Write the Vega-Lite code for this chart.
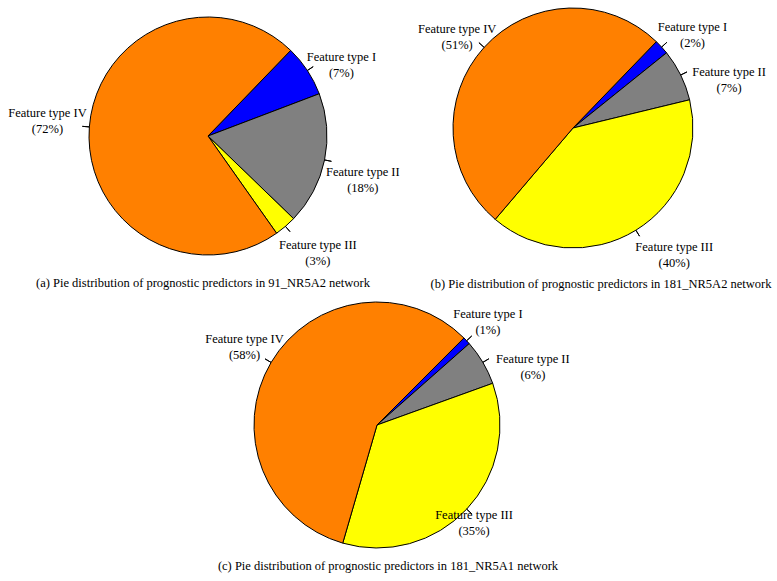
{
  "$schema": "https://vega.github.io/schema/vega-lite/v6.json",
  "padding": 0,
  "background": "white",
  "config": {
    "view": {"stroke": null},
    "font": "Liberation Serif",
    "text": {"font": "Liberation Serif", "fontSize": 12.5, "color": "black", "lineBreak": "\n", "lineHeight": 16},
    "title": {"font": "Liberation Serif", "fontSize": 12.5, "fontWeight": "normal", "color": "black", "anchor": "middle"}
  },
  "datasets": {
    "a": [
      {"type": "Feature type I", "share": 7, "label": "Feature type I\n(7%)"},
      {"type": "Feature type II", "share": 18, "label": "Feature type II\n(18%)"},
      {"type": "Feature type III", "share": 3, "label": "Feature type III\n(3%)"},
      {"type": "Feature type IV", "share": 72, "label": "Feature type IV\n(72%)"}
    ],
    "b": [
      {"type": "Feature type I", "share": 2, "label": "Feature type I\n(2%)"},
      {"type": "Feature type II", "share": 7, "label": "Feature type II\n(7%)"},
      {"type": "Feature type III", "share": 40, "label": "Feature type III\n(40%)"},
      {"type": "Feature type IV", "share": 51, "label": "Feature type IV\n(51%)"}
    ],
    "c": [
      {"type": "Feature type I", "share": 1, "label": "Feature type I\n(1%)"},
      {"type": "Feature type II", "share": 6, "label": "Feature type II\n(6%)"},
      {"type": "Feature type III", "share": 35, "label": "Feature type III\n(35%)"},
      {"type": "Feature type IV", "share": 58, "label": "Feature type IV\n(58%)"}
    ]
  },
  "vconcat": [
    {
      "hconcat": [
        {
          "width": 416, "height": 272,
          "data": {"name": "a"},
          "title": {"text": "(a)  Pie distribution of prognostic predictors in 91_NR5A2 network", "orient": "bottom", "frame": "group", "offset": 5, "dx": -5},
          "encoding": {
            "theta": {"field": "share", "type": "quantitative", "stack": true, "scale": {"range": [0.768, 7.051]}},
            "order": {"field": "type", "type": "ordinal"}
          },
          "resolve": {"scale": {"theta": "independent"}},
          "layer": [
            {"mark": {"type": "arc", "radius": 119, "stroke": "black", "strokeWidth": 1},
             "encoding": {"color": {"field": "type", "type": "nominal", "legend": null,
               "scale": {"domain": ["Feature type I", "Feature type II", "Feature type III", "Feature type IV"], "range": ["#0000ff", "#808080", "#ffff00", "#ff8000"]}}}},
            {"mark": {"type": "arc", "radius": 126, "radius2": 119, "padAngle": 3, "fill": null, "stroke": "black", "strokeWidth": 1},
             "encoding": {"detail": {"field": "type"}, "strokeOpacity": {"condition": {"test": "datum.type === 'Feature type IV'", "value": 0}, "value": 1}}},
            {"transform": [{"filter": "datum.type === 'Feature type IV'"}],
             "mark": {"type": "arc", "radius": 126, "radius2": 119, "padAngle": 3, "fill": null, "stroke": "black", "strokeWidth": 1},
             "encoding": {"theta": {"field": "share", "type": "quantitative", "stack": true, "scale": {"domain": [0, 72], "range": [4.779, 4.799]}}}},
            {"mark": {"type": "text", "radius": 155, "dx": 4, "dy": 6},
             "encoding": {"text": {"condition": {"test": "datum.type === 'Feature type I'", "field": "label"}, "value": ""}, "detail": {"field": "type"}}},
            {"mark": {"type": "text", "radius": 155, "dx": 3, "dy": 5},
             "encoding": {"text": {"condition": {"test": "datum.type === 'Feature type II'", "field": "label"}, "value": ""}, "detail": {"field": "type"}}},
            {"mark": {"type": "text", "radius": 155, "dx": 9, "dy": -9},
             "encoding": {"text": {"condition": {"test": "datum.type === 'Feature type III'", "field": "label"}, "value": ""}, "detail": {"field": "type"}}},
            {"mark": {"type": "text", "radius": 155, "dx": -6, "dy": -11},
             "encoding": {"text": {"condition": {"test": "datum.type === 'Feature type IV'", "field": "label"}, "value": ""}, "detail": {"field": "type"}}}
          ]
        },
        {
          "width": 314, "height": 256,
          "data": {"name": "b"},
          "title": {"text": "(b)  Pie distribution of prognostic predictors in 181_NR5A2 network", "orient": "bottom", "frame": "group", "offset": -1, "dx": 28},
          "encoding": {
            "theta": {"field": "share", "type": "quantitative", "stack": true, "scale": {"range": [0.768, 7.051]}},
            "order": {"field": "type", "type": "ordinal"}
          },
          "resolve": {"scale": {"theta": "independent"}},
          "layer": [
            {"mark": {"type": "arc", "radius": 120, "stroke": "black", "strokeWidth": 1},
             "encoding": {"color": {"field": "type", "type": "nominal", "legend": null,
               "scale": {"domain": ["Feature type I", "Feature type II", "Feature type III", "Feature type IV"], "range": ["#0000ff", "#808080", "#ffff00", "#ff8000"]}}}},
            {"mark": {"type": "arc", "radius": 127, "radius2": 120, "padAngle": 3, "fill": null, "stroke": "black", "strokeWidth": 1},
             "encoding": {"detail": {"field": "type"}, "strokeOpacity": {"condition": {"test": "datum.type === 'Feature type IV'", "value": 0}, "value": 1}}},
            {"transform": [{"filter": "datum.type === 'Feature type IV'"}],
             "mark": {"type": "arc", "radius": 127, "radius2": 120, "padAngle": 3, "fill": null, "stroke": "black", "strokeWidth": 1},
             "encoding": {"theta": {"field": "share", "type": "quantitative", "stack": true, "scale": {"domain": [0, 51], "range": [5.439, 5.459]}}}},
            {"mark": {"type": "text", "radius": 155, "dx": 5, "dy": 3.5},
             "encoding": {"text": {"condition": {"test": "datum.type === 'Feature type I'", "field": "label"}, "value": ""}, "detail": {"field": "type"}}},
            {"mark": {"type": "text", "radius": 155, "dx": 17, "dy": 12},
             "encoding": {"text": {"condition": {"test": "datum.type === 'Feature type II'", "field": "label"}, "value": ""}, "detail": {"field": "type"}}},
            {"mark": {"type": "text", "radius": 155, "dx": 20, "dy": -13.5},
             "encoding": {"text": {"condition": {"test": "datum.type === 'Feature type III'", "field": "label"}, "value": ""}, "detail": {"field": "type"}}},
            {"mark": {"type": "text", "radius": 155, "dx": -1, "dy": 5},
             "encoding": {"text": {"condition": {"test": "datum.type === 'Feature type IV'", "field": "label"}, "value": ""}, "detail": {"field": "type"}}}
          ]
        }
      ],
      "spacing": 0
    },
    {
      "width": 754, "height": 260,
      "data": {"name": "c"},
      "title": {"text": "(c)  Pie distribution of prognostic predictors in 181_NR5A1 network", "orient": "bottom", "frame": "group", "offset": 5, "dx": 11},
      "encoding": {
        "theta": {"field": "share", "type": "quantitative", "stack": true, "scale": {"range": [0.785, 7.068]}},
        "order": {"field": "type", "type": "ordinal"}
      },
      "resolve": {"scale": {"theta": "independent"}},
      "layer": [
        {"mark": {"type": "arc", "radius": 123, "stroke": "black", "strokeWidth": 1},
         "encoding": {"color": {"field": "type", "type": "nominal", "legend": null,
           "scale": {"domain": ["Feature type I", "Feature type II", "Feature type III", "Feature type IV"], "range": ["#0000ff", "#808080", "#ffff00", "#ff8000"]}}}},
        {"mark": {"type": "arc", "radius": 130, "radius2": 123, "padAngle": 3, "fill": null, "stroke": "black", "strokeWidth": 1},
         "encoding": {"detail": {"field": "type"}, "strokeOpacity": {"condition": {"test": "datum.type === 'Feature type IV'", "value": 0}, "value": 1}}},
        {"transform": [{"filter": "datum.type === 'Feature type IV'"}],
         "mark": {"type": "arc", "radius": 130, "radius2": 123, "padAngle": 3, "fill": null, "stroke": "black", "strokeWidth": 1},
         "encoding": {"theta": {"field": "share", "type": "quantitative", "stack": true, "scale": {"domain": [0, 58], "range": [5.236, 5.256]}}}},
        {"mark": {"type": "text", "radius": 155, "dx": -2, "dy": -5},
         "encoding": {"text": {"condition": {"test": "datum.type === 'Feature type I'", "field": "label"}, "value": ""}, "detail": {"field": "type"}}},
        {"mark": {"type": "text", "radius": 155, "dx": 22.5, "dy": 13},
         "encoding": {"text": {"condition": {"test": "datum.type === 'Feature type II'", "field": "label"}, "value": ""}, "detail": {"field": "type"}}},
        {"mark": {"type": "text", "radius": 155, "dx": -16, "dy": -16},
         "encoding": {"text": {"condition": {"test": "datum.type === 'Feature type III'", "field": "label"}, "value": ""}, "detail": {"field": "type"}}},
        {"mark": {"type": "text", "radius": 155, "dx": 1, "dy": -7},
         "encoding": {"text": {"condition": {"test": "datum.type === 'Feature type IV'", "field": "label"}, "value": ""}, "detail": {"field": "type"}}}
      ]
    }
  ],
  "spacing": 4
}
